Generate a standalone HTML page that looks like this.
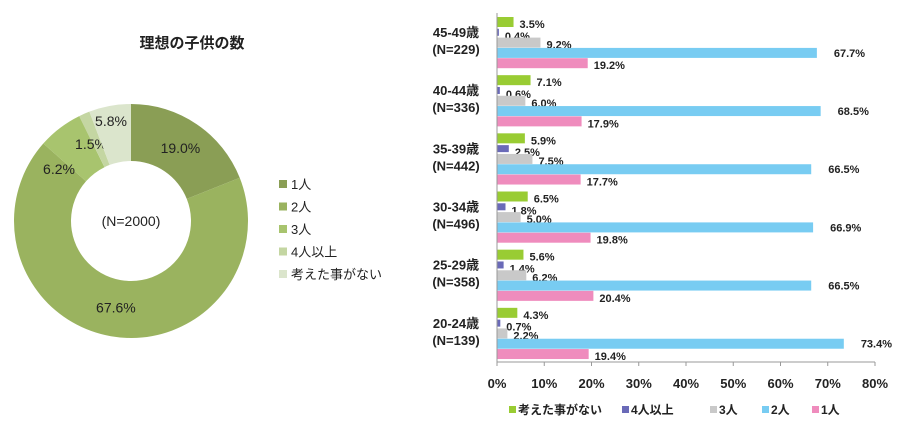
<!DOCTYPE html>
<html><head><meta charset="utf-8">
<style>
body{margin:0;background:#fff;font-family:"Liberation Sans","Noto Sans CJK JP",sans-serif;}
svg text{font-family:"Liberation Sans","Noto Sans CJK JP",sans-serif;fill:#222;}
</style></head>
<body>
<svg id="chart" width="900" height="428" viewBox="0 0 900 428">
<text x="192" y="48" text-anchor="middle" font-size="15" font-weight="bold">理想の子供の数</text>
<g id="donut"></g>
<text x="131" y="226" text-anchor="middle" font-size="14">(N=2000)</text>
<g id="dlegend"></g>
<g id="bars"></g>
<g id="blegend"></g>
</svg>
<script>
const donutLabels=["1人","2人","3人","4人以上","考えた事がない"];
const donutValues=[19.0,67.6,6.2,1.5,5.8];
const donutColors=["#8a9e55","#9ab35f","#a8c46e","#c4d6a2","#dbe5cc"];

const groupLabels=["45-49歳","40-44歳","35-39歳","30-34歳","25-29歳","20-24歳"];
const groupN=["(N=229)","(N=336)","(N=442)","(N=496)","(N=358)","(N=139)"];
const seriesNames=["考えた事がない","4人以上","3人","2人","1人"];
const sNone=[3.5,7.1,5.9,6.5,5.6,4.3];
const s4=[0.4,0.6,2.5,1.8,1.4,0.7];
const s3=[9.2,6.0,7.5,5.0,6.2,2.2];
const s2=[67.7,68.5,66.5,66.9,66.5,73.4];
const s1=[19.2,17.9,17.7,19.8,20.4,19.4];
const xTicks=[0,10,20,30,40,50,60,70,80];
const barColors=["#99cc33","#6a6ab8","#c9c9c9","#78ccf2","#ef8cbd"];

const NS="http://www.w3.org/2000/svg";
function mk(tag,attrs,parent){const e=document.createElementNS(NS,tag);for(const k in attrs)e.setAttribute(k,attrs[k]);parent.appendChild(e);return e;}

// donut
const cx=131,cy=221,R=117,r=60;
const dg=document.getElementById('donut');
const tot=donutValues.reduce((a,b)=>a+b,0);
let a0=0;
const labelR=[88,88,100,108,100];
donutValues.forEach((v,i)=>{
  const a1=a0+v/tot*Math.PI*2;
  const p=(a,rr)=>[cx+rr*Math.sin(a),cy-rr*Math.cos(a)];
  const [x1,y1]=p(a0,R),[x2,y2]=p(a1,R),[x3,y3]=p(a1,r),[x4,y4]=p(a0,r);
  const lg=(a1-a0)>Math.PI?1:0;
  const path=mk('path',{d:`M${x1},${y1}A${R},${R} 0 ${lg} 1 ${x2},${y2}L${x3},${y3}A${r},${r} 0 ${lg} 0 ${x4},${y4}Z`,fill:donutColors[i]},dg);
  
  
  const am=(a0+a1)/2;
  let [lx,ly]=p(am,labelR[i]);
  if(i==4){lx=cx-20;ly=cy-100;}
  if(i==3){lx=cx-40;ly=cy-77;}
  if(i==2){lx=cx-72;ly=cy-52;}
  const t=mk('text',{x:lx,y:ly+5,'text-anchor':'middle','font-size':14},dg);
  t.textContent=v.toFixed(1)+'%';
  
  
  a0=a1;
});
const dl=document.getElementById('dlegend');
donutLabels.forEach((l,i)=>{
  const y=185+i*22.5;
  const s=mk('rect',{x:279,y:y-5,width:8,height:8,fill:donutColors[i]},dl);
  
  
  const t=mk('text',{x:291,y:y+4,'font-size':13},dl);
  t.textContent=l;
  
  
});

// bars
const x0=497,x1=875,yTop=13,yBot=362;
const xs=v=>x0+(v-xTicks[0])/(xTicks[xTicks.length-1]-xTicks[0])*(x1-x0);
const pitch=(yBot-yTop)/groupLabels.length;
const slot=10.3, barH=[10,7,10,10,10];
const bg=document.getElementById('bars');
const series=[sNone,s4,s3,s2,s1];
groupLabels.forEach((g,gi)=>{
  const gy=yTop+gi*pitch+4;
  series.forEach((arr,si)=>{
    const y=gy+si*slot+(si==1?1.5:0);
    const w=xs(arr[gi])-x0;
    const b=mk('rect',{x:x0,y:y,width:w,height:barH[si],fill:barColors[si]},bg);
    
    
    const t=mk('text',{x:x0+w+(si==3?17:6),y:y+(si==3?9:11),'font-size':11,'font-weight':'bold',fill:'#333'},bg);
    t.textContent=arr[gi].toFixed(1)+'%';
    
    
  });
  const c1=mk('text',{x:456,y:gy+20,'text-anchor':'middle','font-size':13,'font-weight':'bold'},bg);
  c1.textContent=g;
  
  
  const c2=mk('text',{x:456,y:gy+37,'text-anchor':'middle','font-size':13,'font-weight':'bold'},bg);
  c2.textContent=groupN[gi];
  
  
});
const ax=mk('line',{x1:x0,y1:yTop,x2:x0,y2:yBot,stroke:'#999','stroke-width':1},bg);


const bx=mk('line',{x1:x0,y1:yBot,x2:x1,y2:yBot,stroke:'#999','stroke-width':1},bg);


xTicks.forEach(v=>{
  const tk=mk('line',{x1:xs(v),y1:yBot,x2:xs(v),y2:yBot+4,stroke:'#999'},bg);
  
  
  const t=mk('text',{x:xs(v),y:388,'text-anchor':'middle','font-size':13,'font-weight':'bold'},bg);
  t.textContent=v+'%';
  
  
});
const bl=document.getElementById('blegend');
const lx=[509,622,710,762,812];
seriesNames.forEach((n,i)=>{
  const s=mk('rect',{x:lx[i],y:406,width:7,height:7,fill:barColors[i]},bl);
  
  
  const t=mk('text',{x:lx[i]+9,y:414,'font-size':12,'font-weight':'bold'},bl);
  t.textContent=n;
  
  
});
</script>
</body></html>
